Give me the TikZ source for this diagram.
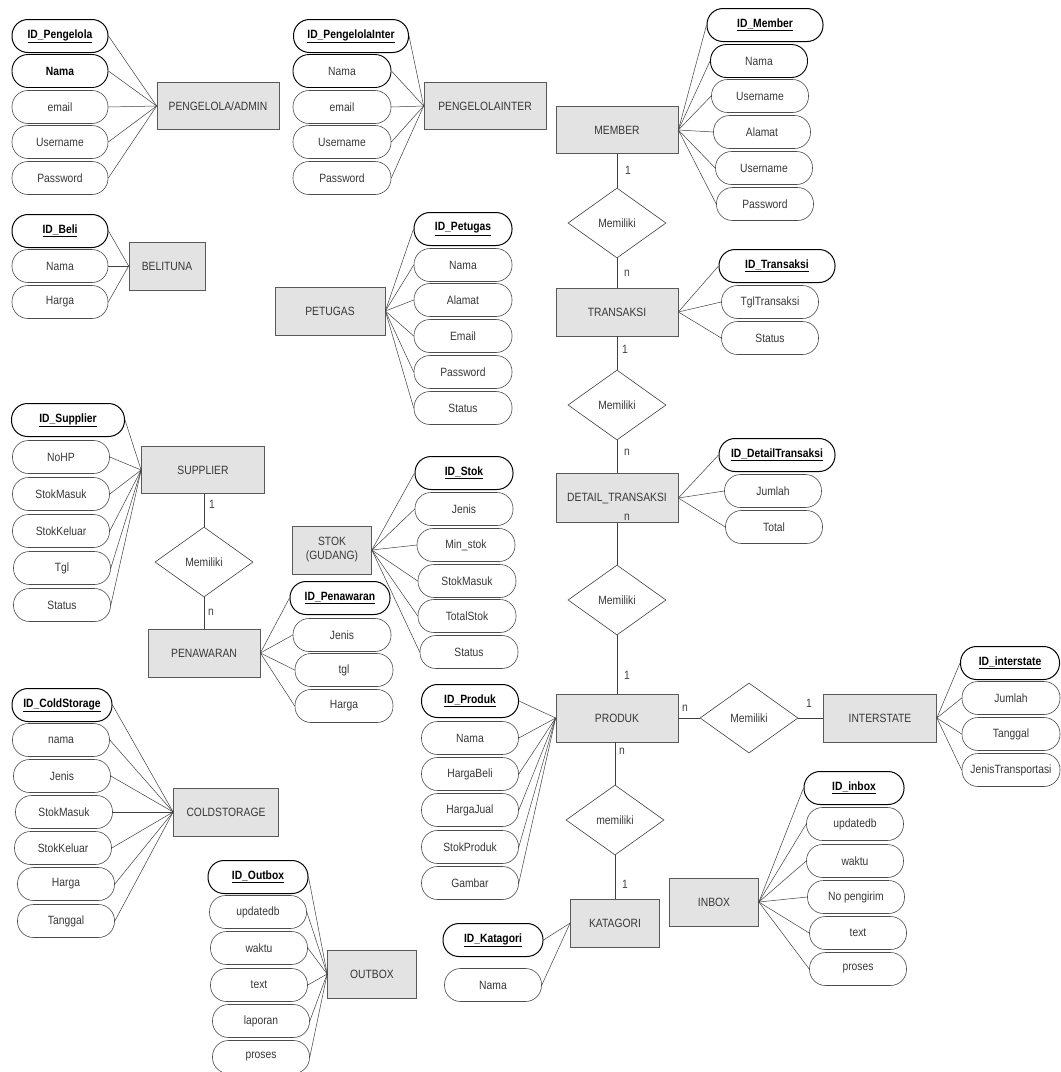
\documentclass[tikz,border=0pt]{standalone}
\usepackage{fontspec}
\setmainfont{Liberation Sans}[FakeStretch=0.86]
\usetikzlibrary{shapes.geometric}
\newcommand\idkey[1]{\underline{#1}}

\begin{document}
\begin{tikzpicture}[x=1pt,y=-1pt,
  every node/.style={font=\fontsize{12}{14}\selectfont, text=black!78},
  attr/.style={draw=black!70, line width=0.6pt, rounded corners=16pt,
    minimum height=33pt, minimum width=97pt, inner sep=0pt, fill=white},
  keyattr/.style={attr, draw=black, line width=1pt, text=black,
    font=\fontsize{12}{14}\selectfont\bfseries},
  strongattr/.style={attr, draw=black, line width=0.9pt},
  entity/.style={draw=black!65, line width=0.7pt, fill=black!11,
    inner sep=0pt, align=center},
  rel/.style={diamond, draw=black!75, line width=0.6pt, fill=white,
    minimum width=98pt, minimum height=70pt, inner sep=0pt},
  link/.style={draw=black!75, line width=0.5pt},
  card/.style={inner sep=0pt, text=black!75}
]
\useasboundingbox (0,0) rectangle (1061,1072);
\fill[white] (0,0) rectangle (1061,1072);

% ---------- PENGELOLA/ADMIN ----------
\node[entity, minimum width=122pt, minimum height=47pt] (pa) at (218,106) {PENGELOLA/ADMIN};
\node[keyattr, minimum width=96pt] (pa1) at (60,36) {\idkey{ID\_Pengelola}};
\node[strongattr, minimum width=96pt, font=\fontsize{12}{14}\selectfont\bfseries, text=black] (pa2) at (60,71) {Nama};
\node[attr, minimum width=96pt] (pa3) at (60,107) {email};
\node[attr, minimum width=96pt] (pa4) at (60,142) {Username};
\node[attr, minimum width=96pt] (pa5) at (60,178) {Password};
\foreach \a in {pa1,pa2,pa3,pa4,pa5} \draw[link] (\a.east) -- (pa.west);

% ---------- PENGELOLAINTER ----------
\node[entity, minimum width=122pt, minimum height=47pt] (pi) at (485,106) {PENGELOLAINTER};
\node[keyattr, minimum width=115pt] (pi1) at (351,36) {\idkey{ID\_PengelolaInter}};
\node[strongattr, minimum width=98pt] (pi2) at (342,71) {Nama};
\node[attr, minimum width=98pt] (pi3) at (342,107) {email};
\node[attr, minimum width=98pt] (pi4) at (342,142) {Username};
\node[attr, minimum width=98pt] (pi5) at (342,178) {Password};
\foreach \a in {pi1,pi2,pi3,pi4,pi5} \draw[link] (\a.east) -- (pi.west);

% ---------- MEMBER ----------
\node[entity, minimum width=122pt, minimum height=47pt] (mb) at (617,130) {MEMBER};
\node[keyattr, minimum width=116pt] (mb1) at (765,25) {\idkey{ID\_Member}};
\node[strongattr] (mb2) at (759,61) {Nama};
\node[attr] (mb3) at (760,96) {Username};
\node[attr] (mb4) at (762,132) {Alamat};
\node[attr] (mb5) at (764,168) {Username};
\node[attr] (mb6) at (765,204) {Password};
\foreach \a in {mb1,mb2,mb3,mb4,mb5,mb6} \draw[link] (mb.east) -- (\a.west);

% ---------- BELITUNA ----------
\node[entity, minimum width=76pt, minimum height=48pt] (bl) at (167,266) {BELITUNA};
\node[keyattr, minimum width=96pt] (bl1) at (60,231) {\idkey{ID\_Beli}};
\node[attr, minimum width=96pt] (bl2) at (60,266) {Nama};
\node[attr, minimum width=96pt] (bl3) at (60,302) {Harga};
\foreach \a in {bl1,bl2,bl3} \draw[link] (\a.east) -- (bl.west);

% ---------- PETUGAS ----------
\node[entity, minimum width=110pt, minimum height=48pt] (pt) at (330,311) {PETUGAS};
\node[keyattr, minimum width=98pt] (pt1) at (463,229) {\idkey{ID\_Petugas}};
\node[attr, minimum width=98pt] (pt2) at (463,265) {Nama};
\node[attr, minimum width=98pt] (pt3) at (463,300) {Alamat};
\node[attr, minimum width=98pt] (pt4) at (463,336) {Email};
\node[attr, minimum width=98pt] (pt5) at (463,372) {Password};
\node[attr, minimum width=98pt] (pt6) at (463,408) {Status};
\foreach \a in {pt1,pt2,pt3,pt4,pt5,pt6} \draw[link] (pt.east) -- (\a.west);

% ---------- TRANSAKSI chain ----------
\node[rel] (d1) at (617,223) {Memiliki};
\node[entity, minimum width=122pt, minimum height=48pt] (tr) at (617,312) {TRANSAKSI};
\node[keyattr, minimum width=116pt] (tr1) at (777,266) {\idkey{ID\_Transaksi}};
\node[attr] (tr2) at (770,302) {TglTransaksi};
\node[attr] (tr3) at (770,338) {Status};
\foreach \a in {tr1,tr2,tr3} \draw[link] (tr.east) -- (\a.west);
\draw[link] (mb.south) -- (d1.north);
\draw[link] (d1.south) -- (tr.north);
\node[card] at (628,170) {1};
\node[card] at (627,273) {n};

\node[rel] (d2) at (617,405) {Memiliki};
\node[entity, minimum width=122pt, minimum height=49pt] (dt) at (617,498) {DETAIL\_TRANSAKSI};
\node[keyattr, minimum width=116pt] (dt1) at (777,455) {\idkey{ID\_DetailTransaksi}};
\node[attr] (dt2) at (773,491) {Jumlah};
\node[attr] (dt3) at (774,527) {Total};
\foreach \a in {dt1,dt2,dt3} \draw[link] (dt.east) -- (\a.west);
\draw[link] (tr.south) -- (d2.north);
\draw[link] (d2.south) -- (dt.north);
\node[card] at (625,349) {1};
\node[card] at (627,452) {n};
\node[card] at (627,517) {n};

% ---------- PRODUK ----------
\node[rel] (d3) at (617,600) {Memiliki};
\node[entity, minimum width=122pt, minimum height=48pt] (pr) at (617,718) {PRODUK};
\draw[link] (dt.south) -- (d3.north);
\draw[link] (d3.south) -- (pr.north);
\node[card] at (627,675) {1};
\node[keyattr] (pr1) at (470,701) {\idkey{ID\_Produk}};
\node[attr] (pr2) at (470,738) {Nama};
\node[attr] (pr3) at (470,774) {HargaBeli};
\node[attr] (pr4) at (470,810) {HargaJual};
\node[attr] (pr5) at (470,847) {StokProduk};
\node[attr] (pr6) at (470,883) {Gambar};
\foreach \a in {pr1,pr2,pr3,pr4,pr5,pr6} \draw[link] (\a.east) -- (pr.west);

% ---------- INTERSTATE ----------
\node[rel] (d4) at (749,718) {Memiliki};
\node[entity, minimum width=113pt, minimum height=48pt] (is) at (880,718) {INTERSTATE};
\draw[link] (pr.east) -- (d4.west);
\draw[link] (d4.east) -- (is.west);
\node[card] at (685,708) {n};
\node[card] at (809,703) {1};
\node[keyattr, minimum width=99pt] (is1) at (1010,663) {\idkey{ID\_interstate}};
\node[attr, minimum width=98pt] (is2) at (1011,698) {Jumlah};
\node[attr, minimum width=98pt] (is3) at (1011,734) {Tanggal};
\node[attr, minimum width=98pt] (is4) at (1011,770) {JenisTransportasi};
\foreach \a in {is1,is2,is3,is4} \draw[link] (is.east) -- (\a.west);

% ---------- KATAGORI ----------
\node[rel] (d5) at (615,820) {memiliki};
\node[entity, minimum width=89pt, minimum height=48pt] (kt) at (615,923) {KATAGORI};
\draw[link] (pr.south -| d5.north) -- (d5.north);
\draw[link] (d5.south) -- (kt.north);
\node[card] at (622,751) {n};
\node[card] at (625,884) {1};
\node[keyattr, minimum width=100pt] (kt1) at (493,940) {\idkey{ID\_Katagori}};
\node[attr] (kt2) at (493,985) {Nama};
\foreach \a in {kt1,kt2} \draw[link] (\a.east) -- (kt.west);

% ---------- INBOX ----------
\node[entity, minimum width=89pt, minimum height=48pt] (ib) at (714,902) {INBOX};
\node[keyattr, minimum width=100pt] (ib1) at (854,788) {\idkey{ID\_inbox}};
\node[attr] (ib2) at (855,824) {updatedb};
\node[attr] (ib3) at (855,861) {waktu};
\node[attr] (ib4) at (856,897) {No pengirim};
\node[attr] (ib5) at (858,933) {text};
\node[attr] (ib6) at (858,969) {proses};
\foreach \a in {ib1,ib2,ib3,ib4,ib5,ib6} \draw[link] (ib.east) -- (\a.west);

% ---------- SUPPLIER / PENAWARAN ----------
\node[entity, minimum width=123pt, minimum height=47pt] (sp) at (203,470) {SUPPLIER};
\node[keyattr, minimum width=113pt] (sp1) at (68,420) {\idkey{ID\_Supplier}};
\node[attr] (sp2) at (61,457) {NoHP};
\node[attr] (sp3) at (61,494) {StokMasuk};
\node[attr] (sp4) at (61,531) {StokKeluar};
\node[attr] (sp5) at (62,568) {Tgl};
\node[attr] (sp6) at (62,605) {Status};
\foreach \a in {sp1,sp2,sp3,sp4,sp5,sp6} \draw[link] (\a.east) -- (sp.west);

\node[rel] (d6) at (204,562) {Memiliki};
\node[entity, minimum width=112pt, minimum height=48pt] (pn) at (204,653) {PENAWARAN};
\draw[link] (sp.south -| d6.north) -- (d6.north);
\draw[link] (d6.south) -- (pn.north);
\node[card] at (212,504) {1};
\node[card] at (211,612) {n};
\node[keyattr, minimum width=100pt] (pn1) at (340,598) {\idkey{ID\_Penawaran}};
\node[attr, minimum width=98pt] (pn2) at (342,635) {Jenis};
\node[attr, minimum width=98pt] (pn3) at (344,670) {tgl};
\node[attr, minimum width=98pt] (pn4) at (344,706) {Harga};
\foreach \a in {pn1,pn2,pn3,pn4} \draw[link] (pn.east) -- (\a.west);

% ---------- STOK (GUDANG) ----------
\node[entity, minimum width=79pt, minimum height=48pt] (sk) at (332,550) {STOK\\(GUDANG)};
\node[keyattr, minimum width=98pt] (sk1) at (464,473) {\idkey{ID\_Stok}};
\node[attr, minimum width=98pt] (sk2) at (464,509) {Jenis};
\node[attr, minimum width=98pt] (sk3) at (466,545) {Min\_stok};
\node[attr, minimum width=98pt] (sk4) at (467,581) {StokMasuk};
\node[attr, minimum width=98pt] (sk5) at (467,616) {TotalStok};
\node[attr, minimum width=98pt] (sk6) at (469,652) {Status};
\foreach \a in {sk1,sk2,sk3,sk4,sk5,sk6} \draw[link] (sk.east) -- (\a.west);

% ---------- COLDSTORAGE ----------
\node[entity, minimum width=105pt, minimum height=48pt] (cs) at (226,812) {COLDSTORAGE};
\node[keyattr, minimum width=100pt] (cs1) at (62,705) {\idkey{ID\_ColdStorage}};
\node[attr] (cs2) at (61,740) {nama};
\node[attr] (cs3) at (62,776) {Jenis};
\node[attr] (cs4) at (64,812) {StokMasuk};
\node[attr] (cs5) at (63,848) {StokKeluar};
\node[attr] (cs6) at (66,884) {Harga};
\node[attr] (cs7) at (66,921) {Tanggal};
\foreach \a in {cs1,cs2,cs3,cs4,cs5,cs6,cs7} \draw[link] (\a.east) -- (cs.west);

% ---------- OUTBOX ----------
\node[entity, minimum width=89pt, minimum height=48pt] (ob) at (372,974) {OUTBOX};
\node[keyattr, minimum width=100pt] (ob1) at (258,877) {\idkey{ID\_Outbox}};
\node[attr] (ob2) at (258,912) {updatedb};
\node[attr] (ob3) at (259,948) {waktu};
\node[attr] (ob4) at (259,985) {text};
\node[attr] (ob5) at (261,1021) {laporan};
\node[attr] (ob6) at (261,1057) {proses};
\foreach \a in {ob1,ob2,ob3,ob4,ob5,ob6} \draw[link] (\a.east) -- (ob.west);

\end{tikzpicture}
\end{document}
